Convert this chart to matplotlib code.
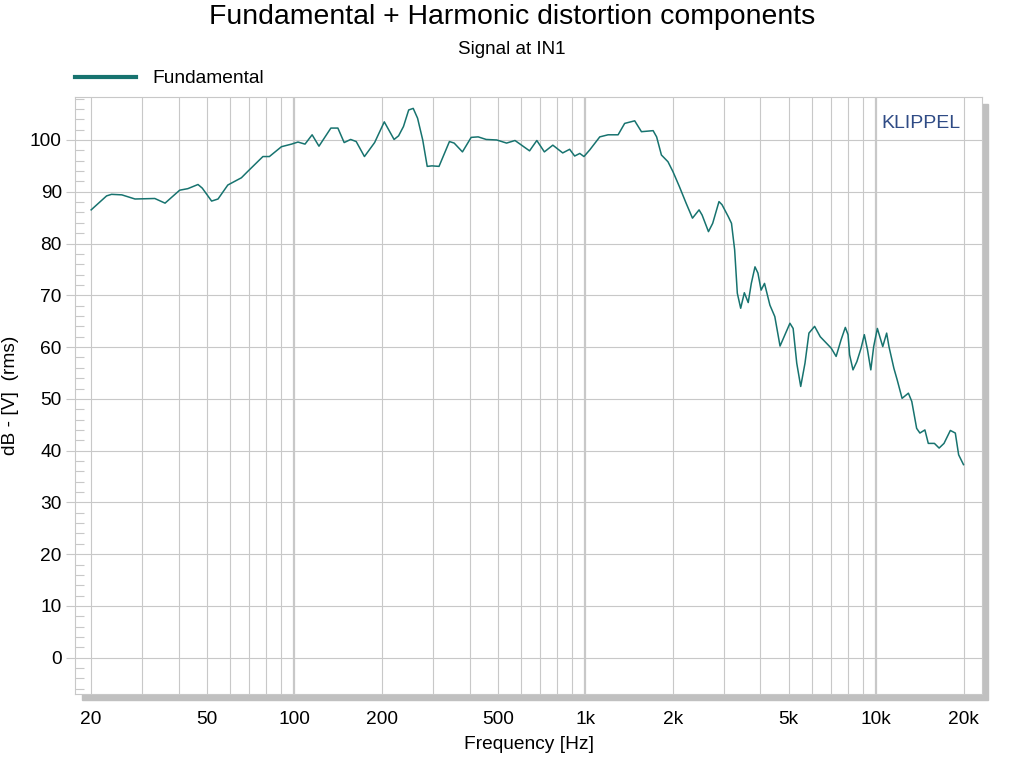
import matplotlib
matplotlib.use('Agg')
import matplotlib.pyplot as plt
from matplotlib.patches import Rectangle
from matplotlib.ticker import FixedLocator, NullFormatter, MultipleLocator

plt.rcParams['font.family'] = ['Liberation Sans', 'DejaVu Sans']

# Fundamental level
freq = [20, 22.6, 23.5, 25.5, 28.3, 33.1, 35.9, 40.3, 43.0, 46.6, 48.2, 51.9, 54.6,
        59.0, 65.7, 69.0, 77.9, 82, 90.2, 97.7, 102.8, 108.7, 115, 121.4, 133.4, 141,
        148.2, 156, 163, 174, 188.6, 203.6, 220, 228, 237, 247, 256, 265, 276, 286,
        297, 314, 341, 354, 378, 405, 428, 456, 496, 536, 573, 643, 681, 723, 773,
        836, 883, 919, 957, 989, 1036, 1121, 1197, 1296, 1365, 1478, 1559, 1710,
        1758, 1826, 1923, 2000, 2105, 2220, 2335, 2460, 2520, 2650, 2740, 2880, 2950,
        3100, 3180, 3260, 3330, 3420, 3520, 3630, 3720, 3830, 3920, 4020, 4130, 4310,
        4480, 4670, 4820, 5050, 5180, 5330, 5500, 5690, 5870, 6140, 6420, 7000, 7280,
        7570, 7830, 8000, 8100, 8320, 8580, 8870, 9100, 9330, 9580, 9800, 10090,
        10530, 10860, 11060, 11500, 11800, 12270, 12900, 13250, 13770, 14130, 14700,
        15100, 15850, 16450, 17100, 17980, 18700, 19200, 19950]
level = [86.5, 89.2, 89.5, 89.4, 88.6, 88.7, 87.8, 90.3, 90.6, 91.4, 90.7, 88.2, 88.6,
         91.3, 92.7, 93.9, 96.8, 96.8, 98.7, 99.2, 99.6, 99.2, 101, 98.8, 102.3, 102.3,
         99.5, 100.1, 99.7, 96.8, 99.5, 103.5, 100.1, 100.8, 102.6, 105.8, 106.1, 104.2,
         100, 94.9, 95.0, 94.9, 99.7, 99.4, 97.7, 100.5, 100.6, 100.1, 100.0, 99.4,
         99.9, 97.9, 99.9, 97.7, 99, 97.5, 98.2, 96.9, 97.4, 96.8, 98.1, 100.6, 101,
         101, 103.2, 103.7, 101.6, 101.8, 100.6, 97.1, 95.8, 93.9, 91, 87.8, 84.9, 86.5,
         85.5, 82.3, 83.9, 88.1, 87.5, 85.2, 83.9, 78.8, 70.4, 67.5, 70.5, 68.6, 72.3,
         75.5, 74.3, 71.0, 72.3, 68.1, 65.9, 60.2, 62.0, 64.6, 63.6, 56.9, 52.4, 56.9,
         62.7, 64.0, 62.0, 59.8, 58.2, 61.4, 63.8, 62.4, 58.5, 55.6, 57.2, 59.8, 62.4,
         59.5, 55.6, 60.1, 63.6, 60.1, 62.7, 60.1, 55.9, 53.7, 50.1, 51.1, 49.5, 44.3,
         43.4, 44.0, 41.4, 41.4, 40.5, 41.4, 43.9, 43.4, 39.2, 37.3]

xticks = [20, 50, 100, 200, 500, 1000, 2000, 5000, 10000, 20000]
xtick_labels = ['20', '50', '100', '200', '500', '1k', '2k', '5k', '10k', '20k']
decades = [100, 1000, 10000]
minor_grid = [20, 30, 40, 50, 60, 70, 80, 90, 200, 300, 400, 500, 600, 700, 800, 900,
              2000, 3000, 4000, 5000, 6000, 7000, 8000, 9000, 20000]

grid_c = '#c8c8c8'
line_c = '#17736f'

fig = plt.figure(figsize=(10.24, 7.68), dpi=100)
ax = fig.add_axes([75/1024, 1 - 694/768, 907/1024, 597/768])
ax.set_facecolor('white')

# drop shadow behind the plot frame
fig.patches.append(Rectangle((82/1024, 1 - 700/768), 906/1024, 596/768,
                             transform=fig.transFigure, color='#c0c0c0', zorder=-1))

ax.set_xscale('log')
ax.set_xlim(17.6, 23100)
ax.set_ylim(-7, 108.3)

for f in minor_grid:
    ax.axvline(f, color=grid_c, lw=0.8, zorder=1)
for f in decades:
    ax.axvline(f, color=grid_c, lw=1.6, zorder=1)
for v in range(0, 101, 10):
    ax.axhline(v, color=grid_c, lw=0.8, zorder=1)

ax.plot(freq, level, color=line_c, lw=1.1, label='Fundamental', zorder=3)

ax.xaxis.set_major_locator(FixedLocator(xticks))
ax.set_xticklabels(xtick_labels)
ax.xaxis.set_minor_formatter(NullFormatter())
ax.xaxis.set_minor_locator(FixedLocator([]))
ax.tick_params(axis='x', which='major', length=0, pad=12, labelsize=13.8)

ax.yaxis.set_minor_locator(MultipleLocator(2))
ax.set_yticks(range(0, 101, 10))
ax.tick_params(axis='y', which='major', direction='out', length=6.5, width=0.8,
               color=grid_c, pad=3, labelsize=13.8)
ax.tick_params(axis='y', which='minor', direction='in', length=6.5, width=0.8,
               color=grid_c)

for s in ax.spines.values():
    s.set_color(grid_c)
    s.set_linewidth(0.8)

ax.set_xlabel('Frequency [Hz]', fontsize=13.8, labelpad=6)
ax.set_ylabel('dB - [V]  (rms)', fontsize=13.8, labelpad=8)

ax.text(0.976, 0.956, 'KLIPPEL', transform=ax.transAxes, ha='right', va='center',
        fontsize=14, color='#2f4b85')

leg = ax.legend(loc='lower left', bbox_to_anchor=(0, 1.016), frameon=False,
                borderpad=0, borderaxespad=0, handlelength=3.2, handletextpad=0.85,
                fontsize=13.8)
for h in leg.get_lines():
    h.set_linewidth(3)

fig.text(0.5, 1 - 17/768, 'Fundamental + Harmonic distortion components',
         ha='center', va='center', fontsize=20.4)
fig.text(0.5, 1 - 49/768, 'Signal at IN1', ha='center', va='center', fontsize=13.6)

fig.savefig('out.png', dpi=100)
